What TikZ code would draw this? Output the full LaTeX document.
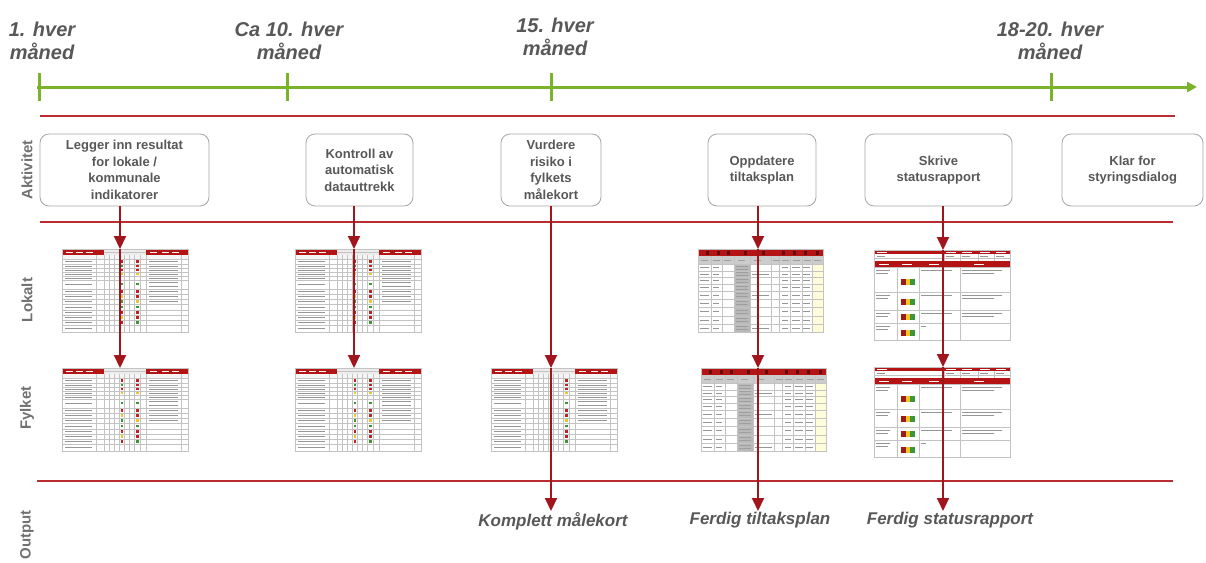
\documentclass[tikz,border=0pt]{standalone}
\usepackage{fontspec}
\setmainfont{Liberation Sans}
\usetikzlibrary{arrows.meta}
\definecolor{tlgreen}{RGB}{122,178,42}
\definecolor{sepred}{RGB}{185,45,50}
\definecolor{arrred}{RGB}{160,22,28}
\definecolor{tred}{RGB}{180,20,20}
\definecolor{txtgrey}{RGB}{88,88,88}
\definecolor{boxgrey}{RGB}{165,165,165}
\definecolor{gline}{RGB}{195,195,195}
\definecolor{tdash}{RGB}{150,150,150}
\definecolor{dred}{RGB}{200,30,30}
\definecolor{dgreen}{RGB}{60,150,50}
\definecolor{dyellow}{RGB}{235,200,40}
\tikzset{
  tlline/.style={tlgreen, line width=3pt},
  tlarrow/.style={tlgreen, line width=3pt, -{Triangle[width=10pt,length=10pt]}},
  timelab/.style={font=\fontsize{20}{23}\selectfont\bfseries\itshape, text=txtgrey, align=center, inner sep=0pt, anchor=north},
  rowlab/.style={font=\fontsize{15}{18}\selectfont\bfseries, text=txtgrey!85, rotate=90, inner sep=0pt},
  actbox/.style={draw=boxgrey, line width=0.8pt, rounded corners=9pt, minimum height=72pt, text=txtgrey,
    font=\fontsize{13}{16.5}\selectfont\bfseries, align=center, inner sep=2pt},
  sepline/.style={sepred, line width=1.5pt},
  flow/.style={arrred, line width=2pt, -{Triangle[width=12pt,length=13pt]}},
  outlab/.style={font=\fontsize{17}{20}\selectfont\bfseries\itshape, text=txtgrey, inner sep=1pt, anchor=north},
  tblnode/.style={anchor=north west, inner sep=0pt, outer sep=0pt},
  gl/.style={gline, line width=.35pt},
  td/.style={tdash, line width=.6pt},
  pics/scorecard/.style={code={
    \fill[white] (0,0) rectangle (126,83);
    \fill[gray!8] (0,6) rectangle (126,10);
    \fill[tred] (0,0) rectangle (126,6);
    \fill[gray!15] (42,1) rectangle (84,6);
    \draw[gl] (42,3.5) -- (84,3.5);
    \foreach \x in {4,14,24} \draw[white,line width=.6pt] (\x,3) -- (\x+7,3);
    \foreach \x in {88,100,110} \draw[white,line width=.6pt] (\x,3) -- (\x+7,3);
    \foreach \y in {10,15,19,23,27,31,40,45,50,55,61,66,71,76} \draw[gl] (0,\y) -- (126,\y);
    \foreach \x in {34,42,47,52,57,62,67,72,78,84,119} \draw[gl] (\x,6) -- (\x,83);
    \draw[gline,line width=.5pt] (0,0) rectangle (126,83);
    \foreach \y in {12.5,17,21,25,29,35,42.5,47.5,52.5,58,63.5,68.5,73.5,79.5}
      \draw[td] (3,\y) -- (30,\y);
    \foreach \y in {12.5,17,21,25,29,33,37,42.5,47.5,52.5}
      \draw[td] (87,\y) -- (116,\y);
    \foreach \y/\a/\b in {12.5/dred/dred,17/dgreen/dred,21/dred/dred,25/dyellow/dyellow,35/dgreen/dgreen,
        42.5/dred/dred,47.5/dyellow/dred,52.5/dgreen/dyellow,58/dgreen/dgreen,63.5/dred/dred,68.5/dyellow/dred,73.5/dred/dgreen}{
      \fill[\a] (58.5,\y-1.4) rectangle (61,\y+1.4);
      \fill[\b] (74,\y-1.4) rectangle (76.5,\y+1.4);
    }
  }},
  pics/tiltak/.style={code={
    \fill[white] (0,0) rectangle (125,83);
    \fill[gray!40] (0,7) rectangle (125,15);
    \fill[gray!55] (36,15) rectangle (52,83);
    \fill[yellow!15] (114,15) rectangle (125,83);
    \fill[tred] (0,0) rectangle (125,7);
    \foreach \x in {8,19,29,46,64,84,95,106,118} \fill[tred!55!black] (\x,1.5) rectangle (\x+3,5.5);
    \foreach \y in {15,22,28,35,42,50,58,67,75} \draw[gl] (0,\y) -- (125,\y);
    \foreach \x in {13,24,36,52,73,81,92,104,114} \draw[gl] (\x,7) -- (\x,83);
    \draw[gline,line width=.5pt] (0,0) rectangle (125,83);
    \foreach \y in {18.5,25,31.5,38.5,46,54,62.5,71,79} {
      \draw[td] (2,\y) -- (11,\y);
      \draw[td] (15,\y) -- (21,\y);
      \draw[td] (84,\y) -- (90,\y);
      \draw[td] (94,\y) -- (102,\y);
      \draw[td] (105,\y) -- (112,\y);
      \draw[gray!75,line width=.8pt] (38,\y-1.5) -- (50,\y-1.5);
      \draw[gray!75,line width=.8pt] (38,\y+1.5) -- (50,\y+1.5);
    }
    \foreach \y in {25,46,79} \draw[td] (54,\y) -- (71,\y);
    \foreach \x in {3,15,26,40,56,75,84,95,106,116} \draw[gray!75,line width=.6pt] (\x,11) -- (\x+7,11);
  }},
  pics/status/.style={code={
    \fill[white] (0,0) rectangle (136,90);
    \fill[tred] (0,0) rectangle (136,3.5);
    \fill[tred] (0,11) rectangle (136,17);
    \foreach \x in {3,72,88,106,122} \draw[white,line width=.5pt] (\x,1.8) -- (\x+10,1.8);
    \foreach \x in {5,28,55,100} \draw[white,line width=.6pt] (\x,14) -- (\x+10,14);
    \foreach \x in {70,86,104,120} \draw[gl] (\x,3.5) -- (\x,11);
    \draw[gl] (0,8) -- (136,8);
    \foreach \x in {3,72,88,106,122} \draw[td] (\x,6) -- (\x+8,6);
    \foreach \y in {17,42,60,73,90} \draw[gl] (0,\y) -- (136,\y);
    \foreach \x in {23,45,86} \draw[gl] (\x,17) -- (\x,90);
    \draw[gline,line width=.5pt] (0,0) rectangle (136,90);
    \foreach \y in {17,42,60,73} {
      \draw[td] (2,\y+3) -- (16,\y+3);
      \draw[td] (2,\y+6) -- (14,\y+6);
    }
    \foreach \y in {17,42,60} {
      \draw[td] (47,\y+3) -- (78,\y+3);
      \draw[td] (88,\y+3) -- (128,\y+3);
      \draw[td] (88,\y+6) -- (120,\y+6);
    }
    \draw[td] (47,76) -- (52,76);
    \foreach \y in {29,49,64,80} {
      \fill[dred!80!black] (27,\y) rectangle (31.5,\y+6);
      \fill[dyellow] (31.5,\y) rectangle (36,\y+6);
      \fill[dgreen] (36,\y) rectangle (40.5,\y+6);
    }
  }}
}
\begin{document}
\begin{tikzpicture}[x=1pt,y=-1pt]
\useasboundingbox (0,0) rectangle (1206,562);
\fill[white] (0,0) rectangle (1206,562);

% timeline
\coordinate (tlstart) at (37,87);
\coordinate (tlend) at (1197,87);
\coordinate (tk1) at (39,87);
\coordinate (tk2) at (287,87);
\coordinate (tk3) at (551,87);
\coordinate (tk4) at (1051,87);
\draw[tlarrow] (tlstart) -- (tlend);
\foreach \t in {tk1,tk2,tk3,tk4}
  \draw[tlline] ([yshift=14pt]\t) -- ([yshift=-14pt]\t);

\node[timelab] (lab1) at (42,22) {1. hver\\måned};
\node[timelab] (lab2) at (289,22) {Ca 10. hver\\måned};
\node[timelab] (lab3) at (555,18) {15. hver\\måned};
\node[timelab] (lab4) at (1050,22) {18-20. hver\\måned};

% separators
\coordinate (s1a) at (40,116);  \coordinate (s1b) at (1175,116);
\coordinate (s2a) at (40,222);  \coordinate (s2b) at (1173,222);
\coordinate (s3a) at (37,481);  \coordinate (s3b) at (1173,481);
\draw[sepline] (s1a) -- (s1b);
\draw[sepline] (s2a) -- (s2b);
\draw[sepline] (s3a) -- (s3b);

% row labels
\node[rowlab] (rA) at (27,170) {Aktivitet};
\node[rowlab] (rL) at (27,300) {Lokalt};
\node[rowlab] (rF) at (27,408) {Fylket};
\node[rowlab] (rO) at (27,535) {Output};

% activity boxes
\node[actbox, minimum width=169pt] (b1) at (124.5,170) {Legger inn resultat\\for lokale /\\kommunale\\indikatorer};
\node[actbox, minimum width=107pt] (b2) at (359.5,170) {Kontroll av\\automatisk\\datauttrekk};
\node[actbox, minimum width=100pt] (b3) at (551,170) {Vurdere\\risiko i\\fylkets\\målekort};
\node[actbox, minimum width=108pt] (b4) at (762,170) {Oppdatere\\tiltaksplan};
\node[actbox, minimum width=147pt] (b5) at (938.5,170) {Skrive\\statusrapport};
\node[actbox, minimum width=141pt] (b6) at (1132.5,170) {Klar for\\styringsdialog};

% tables
\node[tblnode, minimum width=126pt, minimum height=83pt] (L1) at (62,249) {};
\node[tblnode, minimum width=126pt, minimum height=83pt] (F1) at (62,368) {};
\node[tblnode, minimum width=126pt, minimum height=83pt] (L2) at (295,249) {};
\node[tblnode, minimum width=126pt, minimum height=83pt] (F2) at (295,368) {};
\node[tblnode, minimum width=126pt, minimum height=83pt] (F3) at (491,368) {};
\node[tblnode, minimum width=125pt, minimum height=83pt] (L4) at (698,249) {};
\node[tblnode, minimum width=125pt, minimum height=83pt] (F4) at (701,368) {};
\node[tblnode, minimum width=136pt, minimum height=90pt] (L5) at (874,250) {};
\node[tblnode, minimum width=136pt, minimum height=90pt] (F5) at (874,367) {};
\pic at (L1.north west) {scorecard};
\pic at (F1.north west) {scorecard};
\pic at (L2.north west) {scorecard};
\pic at (F2.north west) {scorecard};
\pic at (F3.north west) {scorecard};
\pic at (L4.north west) {tiltak};
\pic at (F4.north west) {tiltak};
\pic at (L5.north west) {status};
\pic at (F5.north west) {status};

% outputs
\node[outlab] (o3) at (553,511) {Komplett målekort};
\node[outlab] (o4) at (760,511) {Ferdig tiltaksplan};
\node[outlab] (o5) at (950,511) {Ferdig statusrapport};

% arrow columns
\coordinate (c1) at (120,0);
\coordinate (c2) at (354,0);
\coordinate (c3) at (551,0);
\coordinate (c4) at (758,0);
\coordinate (c5) at (943,0);

\draw[flow] (b1.south -| c1) -- (L1.north -| c1);
\draw[flow] (L1.north -| c1) -- (F1.north -| c1);
\draw[flow] (b2.south -| c2) -- (L2.north -| c2);
\draw[flow] (L2.north -| c2) -- (F2.north -| c2);
\draw[flow] (b3.south -| c3) -- (F3.north -| c3);
\draw[flow] (F3.north -| c3) -- (o3.north -| c3);
\draw[flow] (b4.south -| c4) -- (L4.north -| c4);
\draw[flow] (L4.north -| c4) -- (F4.north -| c4);
\draw[flow] (F4.north -| c4) -- (o4.north -| c4);
\draw[flow] (b5.south -| c5) -- (L5.north -| c5);
\draw[flow] (L5.north -| c5) -- (F5.north -| c5);
\draw[flow] (F5.north -| c5) -- (o5.north -| c5);
\end{tikzpicture}
\end{document}
